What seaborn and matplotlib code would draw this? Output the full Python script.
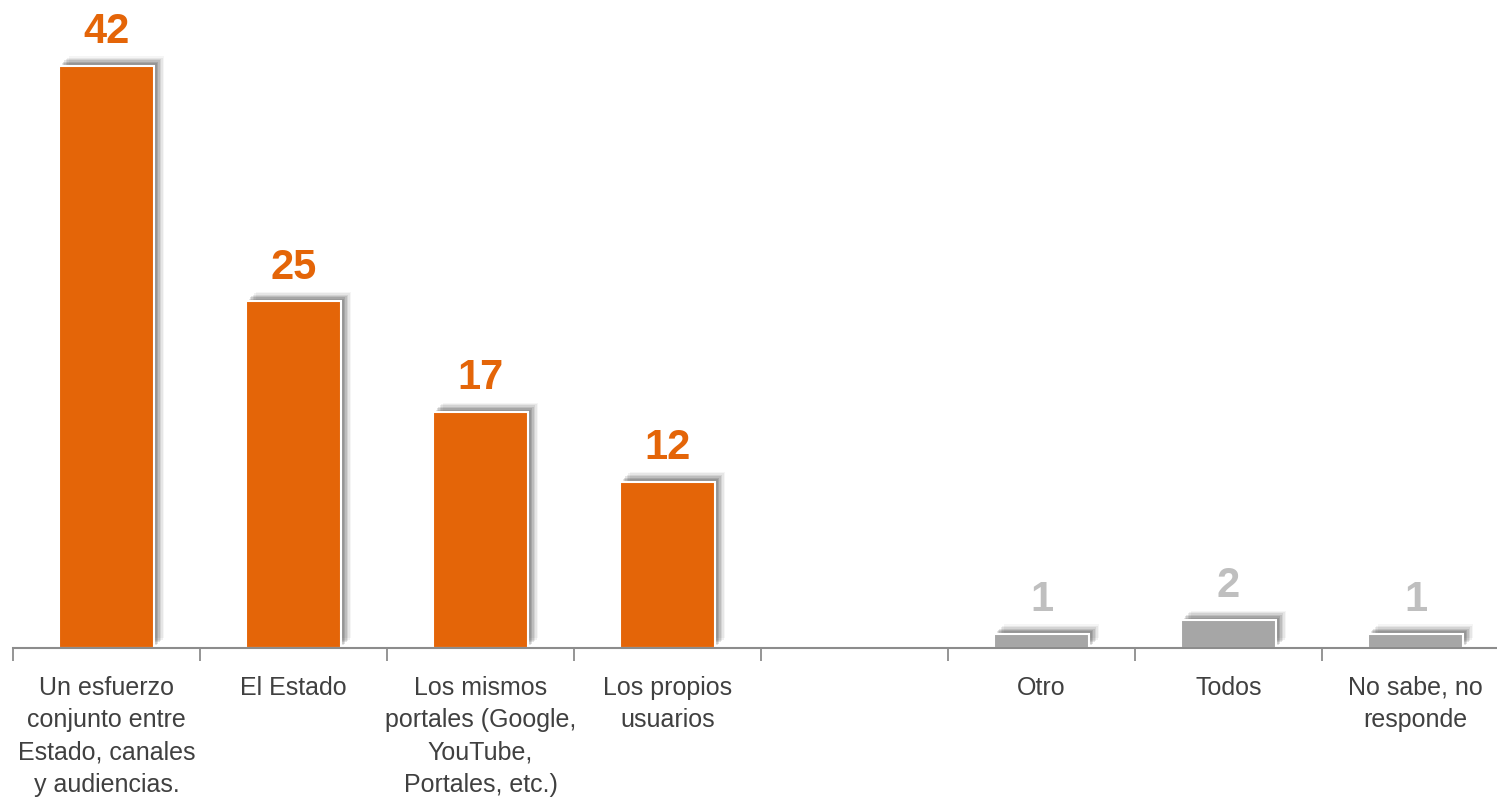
import matplotlib
matplotlib.use("Agg")
import matplotlib.pyplot as plt
import matplotlib.patheffects as pe
import numpy as np
import pandas as pd
import seaborn as sns

categories = [
    "Un esfuerzo\nconjunto entre\nEstado, canales\ny audiencias.",
    "El Estado",
    "Los mismos\nportales (Google,\nYouTube,\nPortales, etc.)",
    "Los propios\nusuarios",
    " ",
    "Otro",
    "Todos",
    "No sabe, no\nresponde",
]
values = [42, 25, 17, 12, np.nan, 1, 2, 1]
groups = ["main", "main", "main", "main", "main", "other", "other", "other"]

ORANGE = "#E46508"
GRAY = "#A6A6A6"
LABEL_GRAY = "#BFBFBF"

df = pd.DataFrame({"cat": categories, "val": values, "grp": groups})

sns.set_style("white")
plt.rcParams["font.family"] = ["Liberation Sans", "DejaVu Sans"]

fig = plt.figure(figsize=(14.97, 7.98), dpi=100)
ax = fig.add_axes([13 / 1497, 1 - 648 / 798, 1496 / 1497, 648 / 798])

sns.barplot(data=df, x="cat", y="val", hue="grp", order=categories,
            palette={"main": ORANGE, "other": GRAY}, width=0.51, dodge=False,
            saturation=1, edgecolor="white", linewidth=1.5, legend=False, ax=ax)

# soft drop shadow, up and to the right
shadow = [pe.SimplePatchShadow(offset=(o, o), shadow_rgbFace="black", alpha=a)
          for o, a in [(7, 0.04), (6, 0.06), (5, 0.08), (4, 0.1), (3, 0.12), (2, 0.1)]]
for p in ax.patches:
    p.set_path_effects(shadow + [pe.Normal()])

for i, v in enumerate(values):
    if np.isnan(v):
        continue
    color = ORANGE if groups[i] == "main" else LABEL_GRAY
    ax.annotate(f"{int(v)}", (i, v), xytext=(0, 10), textcoords="offset points",
                ha="center", va="bottom", fontsize=30, fontweight="bold", color=color)

ax.set_xlim(-0.5, 7.5)
ax.set_ylim(0, 46.75)
ax.set_xlabel("")
ax.set_ylabel("")
ax.set_yticks([])
for s in ["top", "right", "left"]:
    ax.spines[s].set_visible(False)
ax.spines["bottom"].set_color("#8C8C8C")
ax.spines["bottom"].set_linewidth(1.5)

ax.set_xticks(np.arange(-0.5, 8, 1), minor=True)
ax.tick_params(axis="x", which="minor", length=9, width=1.3, color="#8C8C8C", bottom=True)
ax.tick_params(axis="x", which="major", length=0, pad=20, labelsize=18, labelcolor="#404040")
for lbl in ax.get_xticklabels():
    lbl.set_va("top")
    lbl.set_linespacing(1.45)

fig.savefig("out.png", dpi=100)
